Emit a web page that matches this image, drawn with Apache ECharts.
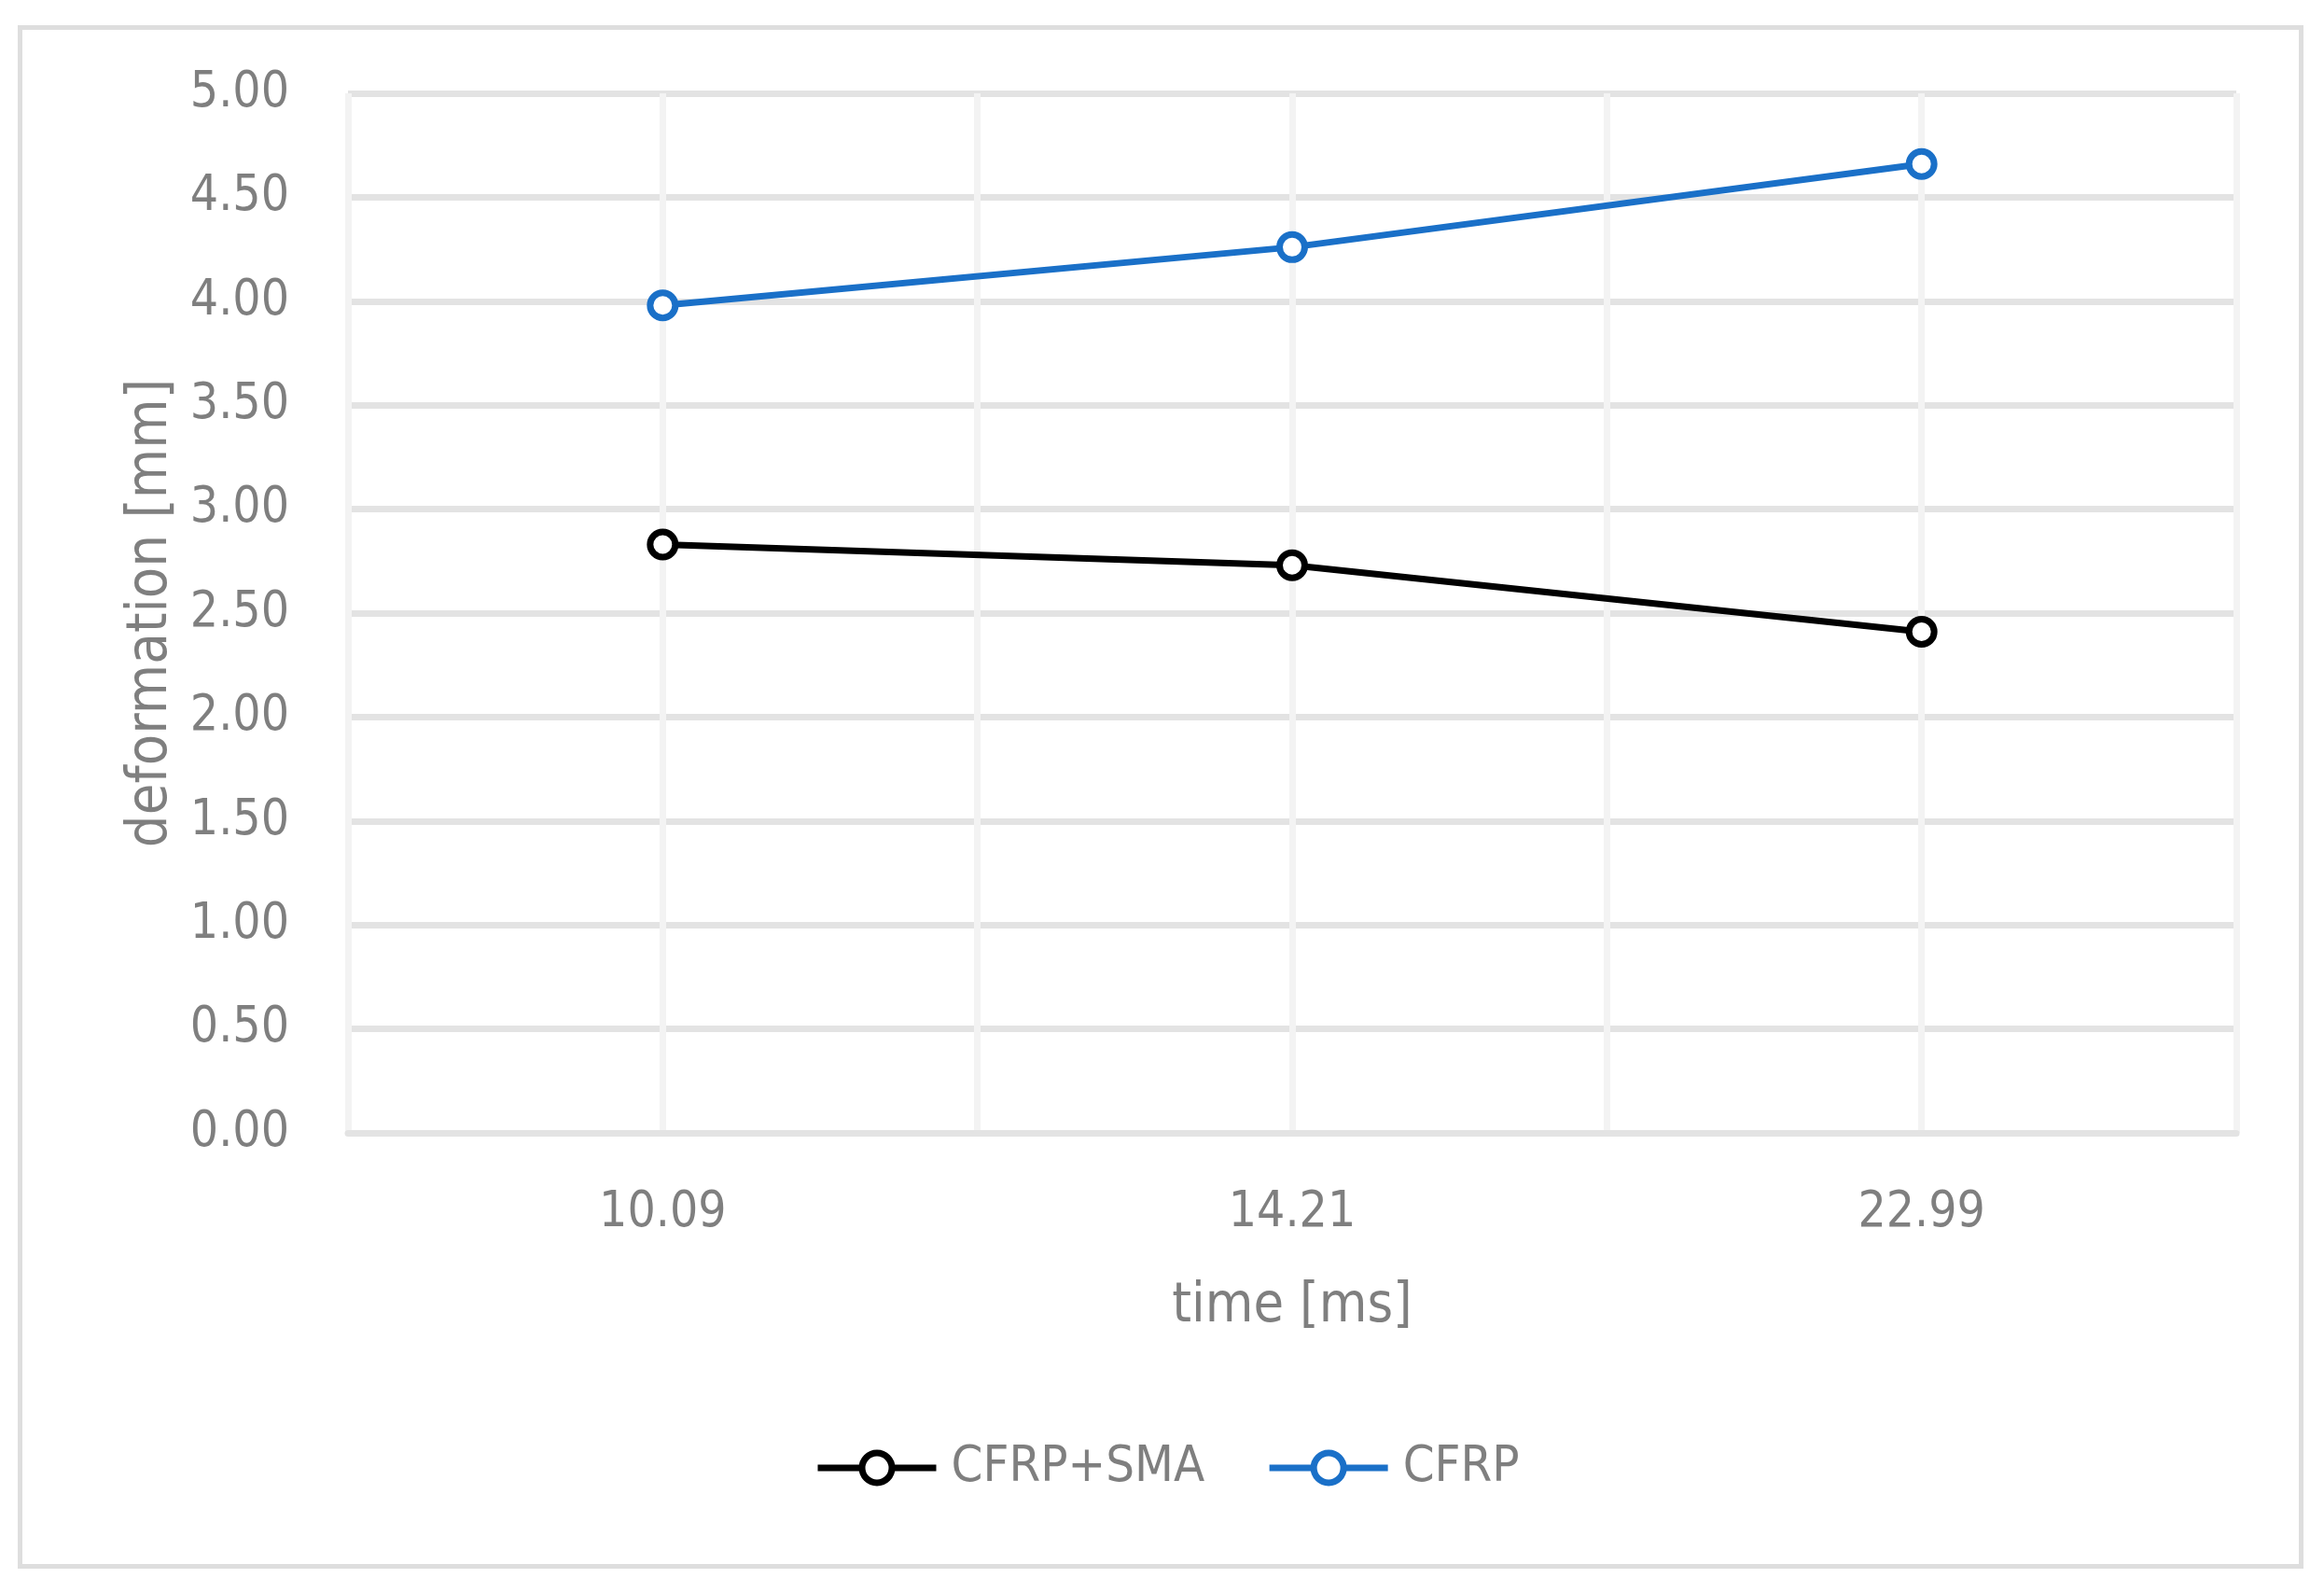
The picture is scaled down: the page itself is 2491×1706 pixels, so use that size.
<!DOCTYPE html>
<html>
<head>
<meta charset="utf-8">
<script src="https://cdn.jsdelivr.net/npm/echarts@6/dist/echarts.min.js"></script>
<style>
  html, body { margin: 0; padding: 0; background: #ffffff; }
  #chart { width: 2491px; height: 1706px; }
</style>
</head>
<body>
<div id="chart"></div>
<script>
// ---- data ----
const categories = ['10.09', '14.21', '22.99'];
const cfrpSma = [2.83, 2.73, 2.41];
const cfrp = [3.98, 4.26, 4.66];
const seriesNames = ['CFRP+SMA', 'CFRP'];
const xTitle = 'time [ms]';
const yTitle = 'deformation [mm]';
const yMin = 0, yMax = 5, yStep = 0.5;

// helper axis that only provides vertical gridlines at half-category steps
const halfCells = categories.flatMap(c => [c + 'a', c + 'b']);

const FONT = '"Liberation Sans Narrow", "DejaVu Sans Condensed", "Liberation Sans", sans-serif';
const TXT = '#7f7f7f';
const BLUE = '#1a70c8';

const chart = echarts.init(document.getElementById('chart'), null, { renderer: 'canvas' });
chart.setOption({
  backgroundColor: '#ffffff',
  animation: false,
  textStyle: { fontFamily: FONT },
  graphic: [{
    type: 'rect',
    left: 19, top: 27,
    shape: { width: 2445, height: 1649 },
    style: { fill: 'none', stroke: '#dedede', lineWidth: 5 },
    silent: true, z: -10
  }],
  grid: { left: 373, right: 94, top: 100, bottom: 492, containLabel: false },
  legend: {
    left: 868, top: 1541,
    itemWidth: 127, itemHeight: 40, itemGap: 66,
    data: seriesNames,
    lineStyle: { width: 7 },
    itemStyle: { borderWidth: 7 },
    textStyle: { fontFamily: FONT, fontSize: 54, color: TXT, padding: [0, 0, 0, 11] }
  },
  xAxis: [{
    type: 'category',
    data: categories,
    boundaryGap: true,
    axisTick: { show: false },
    axisLine: { show: true, lineStyle: { color: '#e3e3e3', width: 7 } },
    splitLine: { show: false },
    axisLabel: { fontFamily: FONT, fontSize: 53, color: TXT, margin: 60 },
    name: xTitle, nameLocation: 'middle', nameGap: 157,
    nameTextStyle: { fontFamily: FONT, fontSize: 59, color: TXT },
    z: 1
  }, {
    type: 'category',
    data: halfCells,
    boundaryGap: true,
    position: 'bottom',
    axisTick: { show: false },
    axisLine: { show: false },
    axisLabel: { show: false },
    splitLine: { show: true, interval: 0, lineStyle: { color: '#f3f3f3', width: 7 } }
  }],
  yAxis: {
    type: 'value',
    min: yMin, max: yMax, interval: yStep,
    axisLine: { show: false },
    axisTick: { show: false },
    splitLine: { show: true, lineStyle: { color: '#e3e3e3', width: 7 } },
    axisLabel: {
      fontFamily: FONT, fontSize: 53, color: TXT, margin: 63,
      formatter: v => v.toFixed(2)
    },
    name: yTitle, nameLocation: 'middle', nameGap: 180,
    nameTextStyle: { fontFamily: FONT, fontSize: 61, color: TXT }
  },
  series: [{
    name: seriesNames[0],
    type: 'line',
    xAxisIndex: 0,
    data: cfrpSma,
    symbol: 'circle', symbolSize: 27,
    lineStyle: { color: '#000000', width: 7 },
    itemStyle: { color: '#ffffff', borderColor: '#000000', borderWidth: 7 },
    z: 5
  }, {
    name: seriesNames[1],
    type: 'line',
    xAxisIndex: 0,
    data: cfrp,
    symbol: 'circle', symbolSize: 27,
    lineStyle: { color: BLUE, width: 7 },
    itemStyle: { color: '#ffffff', borderColor: BLUE, borderWidth: 7 },
    z: 5
  }]
});
</script>
</body>
</html>
